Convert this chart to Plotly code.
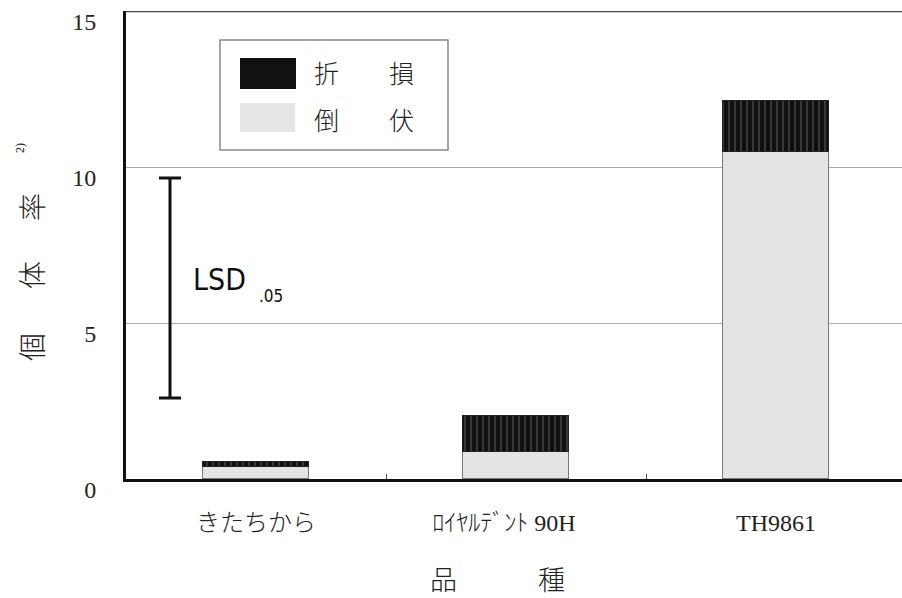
import plotly.graph_objects as go

# ---- data ----
categories = ["きたちから", "ﾛｲﾔﾙﾃﾞﾝﾄ 90H", "TH9861"]
lodging = [0.40, 0.86, 10.47]      # 倒伏
breakage = [0.15, 1.16, 1.64]      # 折損
lsd_low = 2.6
lsd_high = 9.65
y_ticks = [0, 5, 10, 15]

# ---- layout geometry (page pixels) ----
W, H = 902, 598
L, T, BOT = 126, 11, 479
B = H - BOT
cat_px = 260.0
plot_w = W - L
plot_h = BOT - T
ymax = 15.0


def dx(px):
    return -0.5 + (px - L) / cat_px


def dy(py):
    return (BOT - py) / plot_h * ymax


def ppx(px):
    return (px - L) / plot_w


def ppy(py):
    return (BOT - py) / plot_h


xs = list(range(len(categories)))
# the middle label sits a little left of its bar in the reference
tick_text = [categories[0], categories[1] + "\u00a0" * 4, categories[2]]

fig = go.Figure()
fig.add_trace(go.Bar(
    x=xs, y=lodging, width=0.41, name="倒伏",
    marker=dict(color="#e4e4e4", line=dict(color="#777777", width=1.5)),
    showlegend=False,
))
fig.add_trace(go.Bar(
    x=xs, y=breakage, width=0.41, name="折損",
    marker=dict(color="#111111", line=dict(color="#222222", width=1),
                pattern=dict(shape="|", bgcolor="#111111", fgcolor="#777777",
                             size=6, solidity=0.25)),
    showlegend=False,
))

# LSD bar
lsd_mid = (lsd_low + lsd_high) / 2
fig.add_trace(go.Scatter(
    x=[dx(170)], y=[lsd_mid], mode="markers",
    marker=dict(size=1, color="rgba(0,0,0,0)"),
    error_y=dict(type="data", array=[(lsd_high - lsd_low) / 2], symmetric=True,
                 color="#111111", thickness=3, width=11),
    showlegend=False, hoverinfo="skip",
))

shapes = [
    dict(type="line", xref="paper", yref="y", x0=0, x1=1, y0=15, y1=15,
         line=dict(color="#444444", width=2.5)),
    dict(type="rect", xref="x", yref="y", x0=dx(220), x1=dx(448), y0=dy(150), y1=dy(40),
         line=dict(color="#888888", width=1.5), fillcolor="white"),
    dict(type="rect", xref="x", yref="y", x0=dx(240), x1=dx(296), y0=dy(89), y1=dy(58),
         line=dict(width=0), fillcolor="#111111"),
    dict(type="rect", xref="x", yref="y", x0=dx(240), x1=dx(295), y0=dy(132), y1=dy(103),
         line=dict(width=0), fillcolor="#e6e6e6"),
]

cjk = "Noto Sans CJK JP"
serif = "Liberation Serif, Noto Sans CJK JP"
narrow = "Liberation Sans Narrow, DejaVu Sans Condensed, Liberation Sans"
ann = []
ann.append(dict(x=dx(364), y=dy(72), text="折　　損", showarrow=False, xref="x", yref="y",
                font=dict(family=cjk, size=25, color="#222", weight=300)))
ann.append(dict(x=dx(364), y=dy(119), text="倒　　伏", showarrow=False, xref="x", yref="y",
                font=dict(family=cjk, size=25, color="#222", weight=300)))
ann.append(dict(x=dx(219), y=dy(279), text="LSD", showarrow=False, xref="x", yref="y",
                font=dict(family=narrow, size=30, color="#111")))
ann.append(dict(x=dx(271), y=dy(296), text=".05", showarrow=False, xref="x", yref="y",
                font=dict(family=narrow, size=17, color="#111")))
for ch, py, sz, pxx in [("個", 347, 28, 31), ("体", 275, 28, 31), ("率", 207, 28, 31), ("2)", 148, 12, 20)]:
    ann.append(dict(xref="paper", yref="paper", x=ppx(pxx), y=ppy(py),
                    xanchor="center", yanchor="middle",
                    text=ch, showarrow=False, textangle=-90,
                    font=dict(family=cjk if ch != "2)" else serif, size=sz, color="#222", weight=300)))
ann.append(dict(xref="paper", yref="paper", x=ppx(497), y=ppy(578),
                xanchor="center", yanchor="middle",
                text="品　　　種", showarrow=False,
                font=dict(family=cjk, size=27, color="#222", weight=300)))

fig.update_layout(
    width=W, height=H,
    margin=dict(l=L, r=0, t=T, b=B, pad=0),
    plot_bgcolor="white", paper_bgcolor="white",
    barmode="stack", bargap=0,
    shapes=shapes, annotations=ann,
    showlegend=False,
)
fig.update_xaxes(
    range=[-0.5, -0.5 + plot_w / cat_px],
    tickmode="array", tickvals=xs, ticktext=tick_text,
    ticks="", showline=True, linecolor="#111111", linewidth=3,
    showgrid=False, zeroline=False,
    tickfont=dict(family=serif, size=24, color="#222", weight=300),
    ticklabelstandoff=20,
    minor=dict(tickvals=[0.5, 1.5], ticks="inside", ticklen=5, tickcolor="#555", tickwidth=1),
)
fig.update_yaxes(
    range=[0, ymax + 0.001], tickmode="array", tickvals=y_ticks,
    ticktext=[str(v) for v in y_ticks],
    showline=True, linecolor="#111111", linewidth=3,
    showgrid=True, gridcolor="#aaaaaa", gridwidth=1, zeroline=False,
    ticks="", tickfont=dict(family=serif, size=24, color="#222"),
    ticklabelstandoff=22, ticklabelshift=11,
)

fig.write_html("out.html", config={"displayModeBar": False},
               post_script="document.body.style.margin='0';document.body.style.overflow='hidden';")
